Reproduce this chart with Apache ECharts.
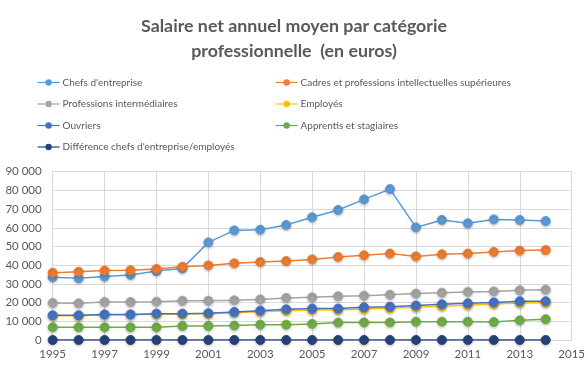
<!DOCTYPE html>
<html><head><meta charset="utf-8">
<script src="https://cdn.jsdelivr.net/npm/echarts@6/dist/echarts.min.js"></script>
<style>html,body{margin:0;padding:0;background:#fff}#c{width:588px;height:369px}</style>
</head><body><div id="c"></div>
<script>
const years = ['1995','1996','1997','1998','1999','2000','2001','2002','2003','2004','2005','2006','2007','2008','2009','2010','2011','2012','2013','2014','2015'];
const chefs = [33500,33000,33900,34800,36900,38300,52200,58600,59000,61500,65600,69500,75200,80700,60200,64200,62400,64500,64200,63600];
const cadres = [36000,36500,37100,37300,38000,39200,39900,41000,41700,42200,43100,44400,45300,46200,44700,45800,46200,47100,47800,48100];
const profInter = [19800,19600,20300,20300,20500,21000,21000,21200,21700,22500,22800,23400,23700,24200,24800,25300,25700,26000,26600,26900];
const employes = [13000,13000,13400,13500,13800,13900,14000,14600,15100,15700,16000,16100,16600,17000,17500,18100,18600,19200,19800,19900];
const ouvriers = [13200,13200,13700,13700,14100,14100,14300,15000,15700,16400,16800,16800,17500,17800,18400,19100,19600,20100,20700,20700];
const apprentis = [6800,6800,6800,6800,6800,7500,7500,7700,8200,8200,8600,9300,9400,9400,9800,9800,9800,9600,10500,11100];
const difference = [0,0,0,0,0,0,0,0,0,0,0,0,0,0,0,0,0,0,0,0];
const names = ["Chefs d'entreprise","Cadres et professions intellectuelles supérieures","Professions intermédiaires","Employés","Ouvriers","Apprentis et stagiaires","Différence chefs d'entreprise/employés"];
const colors = ['#5B9BD5','#ED7D31','#A5A5A5','#FFC000','#4472C4','#70AD47','#264478'];
const values = [chefs,cadres,profInter,employes,ouvriers,apprentis,difference];

const txt = '#595959';
const chart = echarts.init(document.getElementById('c'), null, {renderer:'canvas'});
const legendBase = {
  orient:'vertical', itemGap:11.5, itemWidth:22, itemHeight:8,
  itemStyle:{shadowBlur:0, shadowOffsetY:0, borderWidth:0},
  lineStyle:{width:1.2},
  textStyle:{color:txt, fontFamily:'Lato', fontSize:10, padding:[0,0,0,-2]},
  selectedMode:false
};
chart.setOption({
  animation:false,
  color: colors,
  title:{
    text:'Salaire net annuel moyen par catégorie\nprofessionnelle  (en euros)',
    left:'center', top:9,
    textStyle:{color:txt, fontFamily:'Lato', fontWeight:'bold', fontSize:17.8, lineHeight:25}
  },
  legend:[
    Object.assign({}, legendBase, {left:32, top:72.5, data:[names[0],names[2],names[4],names[6]]}),
    Object.assign({}, legendBase, {left:270, top:72.5, data:[names[1],names[3],names[5]]})
  ],
  grid:{left:52.7, right:15.3, top:171.7, bottom:29, containLabel:false},
  xAxis:{
    type:'category', data:years, boundaryGap:false,
    axisLine:{show:true, lineStyle:{color:'#D9D9D9'}},
    axisTick:{show:false},
    axisLabel:{interval:1, color:txt, fontFamily:'Lato', fontSize:11.5, margin:8},
    splitLine:{show:true, interval:1, lineStyle:{color:'#D9D9D9'}}
  },
  yAxis:{
    type:'value', min:0, max:90000, interval:10000,
    axisLine:{show:false}, axisTick:{show:false},
    axisLabel:{color:txt, fontFamily:'Lato', fontSize:11.5, margin:11,
      formatter:v=>String(v).replace(/\B(?=(\d{3})+(?!\d))/g,' ')},
    splitLine:{lineStyle:{color:'#D9D9D9'}}
  },
  series: names.map((n,i)=>({
    name:n, type:'line', data:values[i], symbol:'circle', symbolSize:9,
    lineStyle:{width:1.5, color:colors[i]},
    itemStyle:{color:colors[i], borderColor:colors[i], borderWidth:1, shadowBlur:3, shadowColor:'rgba(0,0,0,0.25)', shadowOffsetY:1}
  }))
});
</script></body></html>
